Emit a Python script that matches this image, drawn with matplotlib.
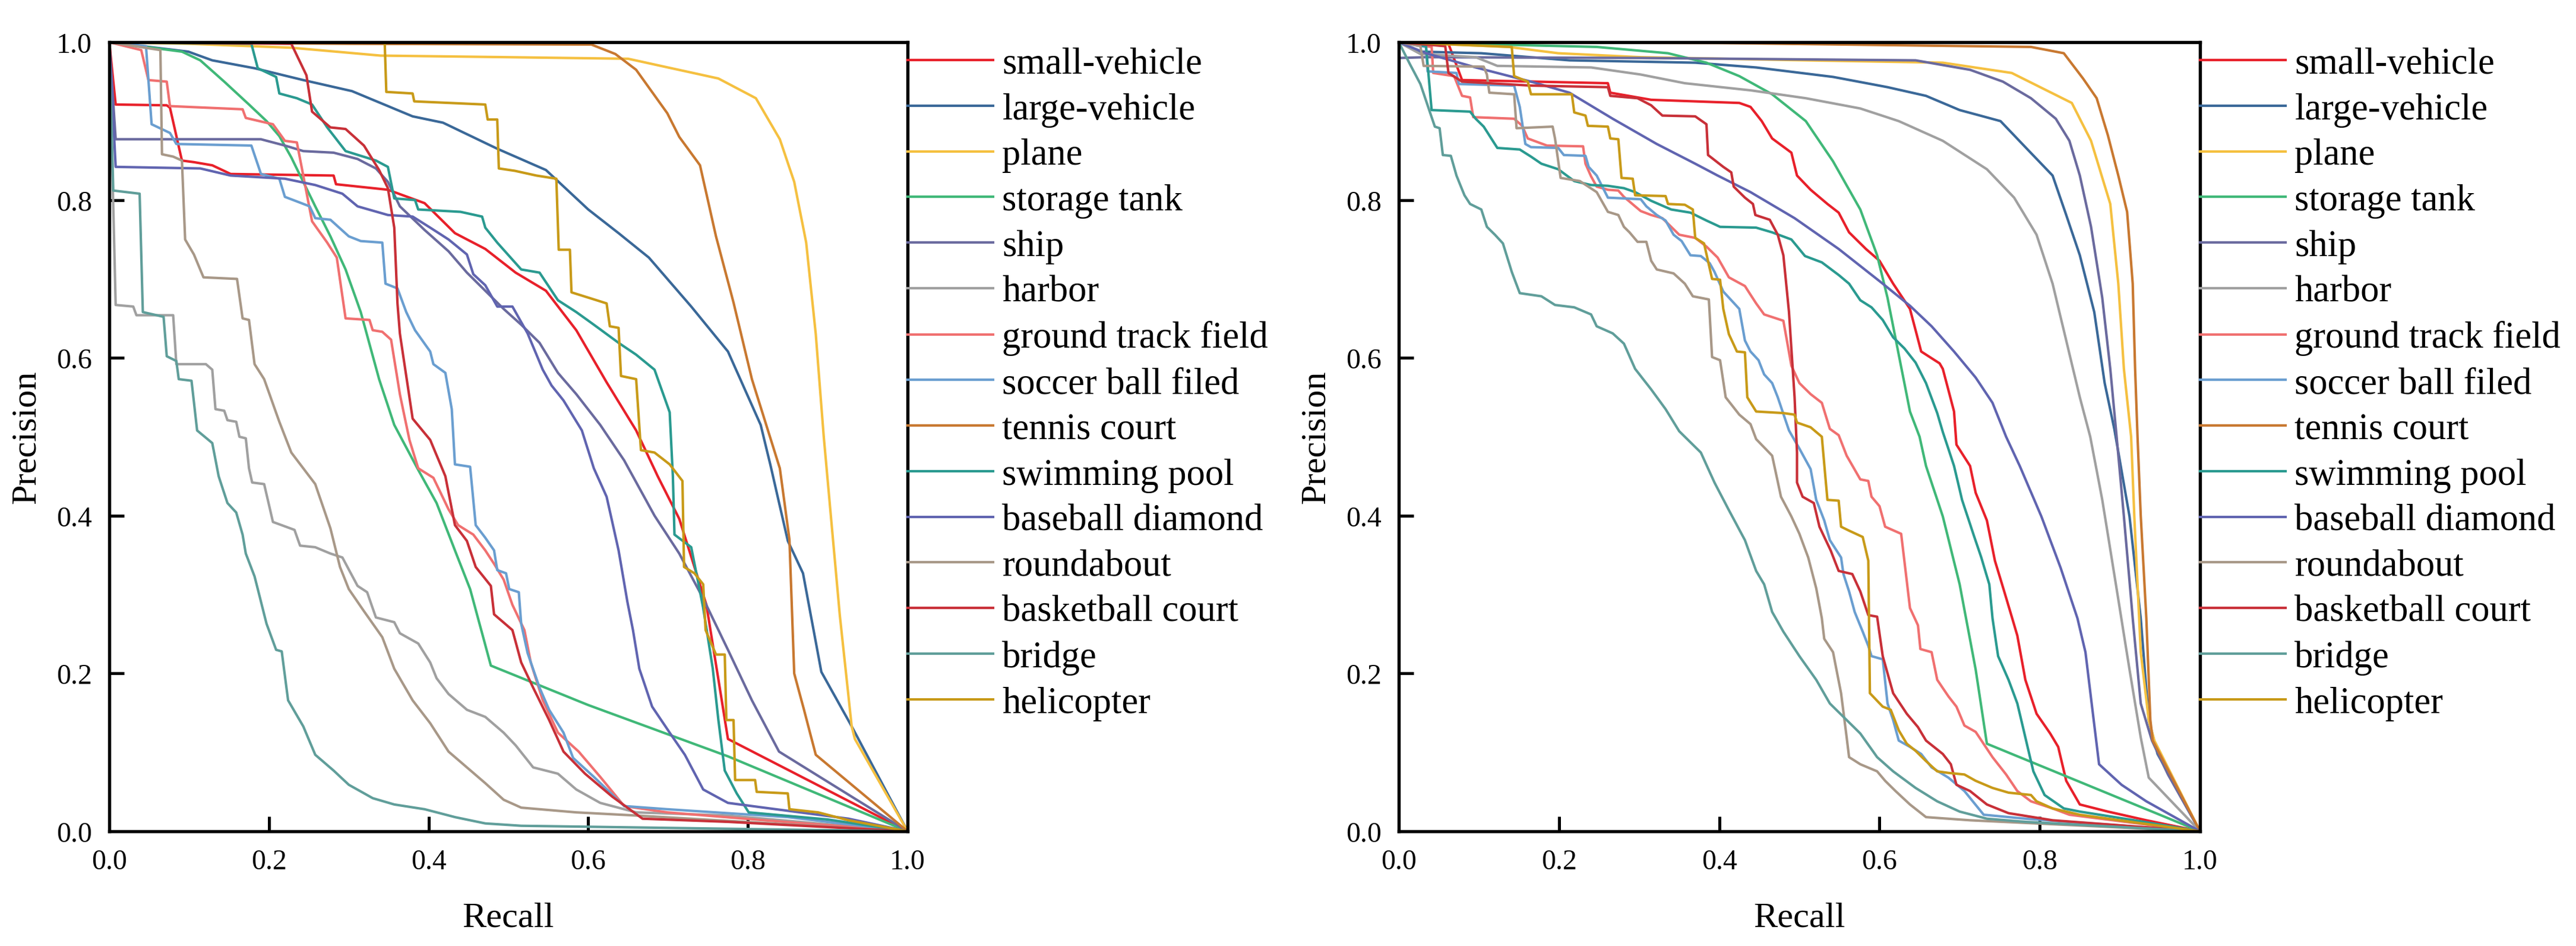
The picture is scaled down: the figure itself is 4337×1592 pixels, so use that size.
import matplotlib
matplotlib.use("Agg")
import matplotlib.pyplot as plt

plt.rcParams['font.family'] = ['Liberation Serif', 'DejaVu Serif']

classes = ["small-vehicle", "large-vehicle", "plane", "storage tank", "ship", "harbor",
           "ground track field", "soccer ball filed", "tennis court", "swimming pool",
           "baseball diamond", "roundabout", "basketball court", "bridge", "helicopter"]

colors = ['#E8202A', '#3A6898', '#F5C040', '#40B878', '#6A6A9E', '#A0A0A0', '#F07070',
          '#6A9ED0', '#C87830', '#2A9A90', '#6064B0', '#A89888', '#C83038', '#609E9A', '#C89A18']

x_ticks = [0.0, 0.2, 0.4, 0.6, 0.8, 1.0]
y_ticks = [0.0, 0.2, 0.4, 0.6, 0.8, 1.0]

# ---------------- left panel: (recall, precision) ----------------
A_small_vehicle = [(0, 1.0), (0.008, 0.921), (0.072, 0.92), (0.076, 0.917), (0.091, 0.85), (0.106, 0.848),
                   (0.129, 0.844), (0.152, 0.833), (0.281, 0.831), (0.284, 0.82), (0.349, 0.813), (0.395, 0.796),
                   (0.433, 0.758), (0.471, 0.738), (0.509, 0.708), (0.547, 0.685), (0.585, 0.635), (0.623, 0.569),
                   (0.66, 0.508), (0.687, 0.45), (0.714, 0.396), (0.748, 0.287), (0.775, 0.117), (1.0, 0.0)]
A_large_vehicle = [(0, 1.0), (0.099, 0.988), (0.129, 0.977), (0.182, 0.967), (0.243, 0.952), (0.304, 0.938),
                   (0.38, 0.906), (0.418, 0.898), (0.486, 0.865), (0.547, 0.838), (0.6, 0.788), (0.638, 0.758),
                   (0.676, 0.727), (0.729, 0.665), (0.775, 0.608), (0.816, 0.515), (0.828, 0.465), (0.85, 0.368),
                   (0.869, 0.327), (0.892, 0.202), (0.93, 0.133), (1.0, 0.0)]
A_plane = [(0, 1.0), (0.1, 0.998), (0.228, 0.993), (0.34, 0.983), (0.5, 0.981), (0.65, 0.979), (0.763, 0.954),
           (0.81, 0.929), (0.84, 0.877), (0.858, 0.823), (0.873, 0.746), (0.885, 0.63), (0.895, 0.5),
           (0.915, 0.275), (0.93, 0.133), (0.934, 0.117), (1.0, 0.0)]
A_storage_tank = [(0, 1.0), (0.091, 0.988), (0.114, 0.977), (0.144, 0.95), (0.175, 0.921), (0.197, 0.9),
                  (0.213, 0.881), (0.228, 0.854), (0.243, 0.823), (0.258, 0.792), (0.277, 0.754), (0.296, 0.712),
                  (0.315, 0.658), (0.338, 0.573), (0.357, 0.515), (0.387, 0.458), (0.41, 0.416), (0.433, 0.356),
                  (0.452, 0.307), (0.478, 0.21), (0.6, 0.16), (0.775, 0.095), (1.0, 0.0)]
A_ship = [(0, 1.0), (0.008, 0.877), (0.19, 0.877), (0.22, 0.869), (0.243, 0.862), (0.281, 0.86), (0.311, 0.852),
          (0.334, 0.84), (0.349, 0.823), (0.364, 0.792), (0.395, 0.762), (0.425, 0.735), (0.448, 0.708),
          (0.471, 0.685), (0.494, 0.662), (0.516, 0.642), (0.539, 0.619), (0.562, 0.581), (0.585, 0.554),
          (0.615, 0.515), (0.645, 0.47), (0.683, 0.4), (0.714, 0.352), (0.744, 0.295), (0.775, 0.23),
          (0.805, 0.166), (0.839, 0.101), (1.0, 0.0)]
A_harbor = [(0, 1.0), (0.008, 0.667), (0.03, 0.665), (0.034, 0.654), (0.08, 0.654), (0.084, 0.592), (0.121, 0.592),
            (0.129, 0.585), (0.133, 0.535), (0.144, 0.533), (0.148, 0.521), (0.159, 0.519), (0.163, 0.5),
            (0.171, 0.498), (0.175, 0.46), (0.179, 0.442), (0.194, 0.44), (0.205, 0.392), (0.232, 0.382),
            (0.239, 0.362), (0.258, 0.36), (0.277, 0.352), (0.292, 0.347), (0.311, 0.311), (0.323, 0.303),
            (0.334, 0.271), (0.357, 0.265), (0.364, 0.251), (0.387, 0.238), (0.402, 0.214), (0.41, 0.194),
            (0.425, 0.174), (0.448, 0.154), (0.471, 0.145), (0.494, 0.125), (0.509, 0.109), (0.531, 0.081),
            (0.562, 0.073), (0.585, 0.053), (0.615, 0.036), (0.66, 0.024), (0.775, 0.02), (1.0, 0.0)]
A_ground_track_field = [(0, 1.0), (0.04, 0.99), (0.049, 0.952), (0.072, 0.95), (0.076, 0.919), (0.167, 0.915),
                        (0.171, 0.904), (0.205, 0.896), (0.22, 0.875), (0.235, 0.873), (0.243, 0.831),
                        (0.254, 0.773), (0.273, 0.746), (0.285, 0.727), (0.296, 0.65), (0.326, 0.648),
                        (0.33, 0.635), (0.342, 0.633), (0.353, 0.623), (0.364, 0.554), (0.376, 0.496),
                        (0.387, 0.46), (0.406, 0.448), (0.425, 0.408), (0.437, 0.388), (0.456, 0.376),
                        (0.471, 0.356), (0.482, 0.339), (0.494, 0.319), (0.505, 0.287), (0.52, 0.255),
                        (0.528, 0.214), (0.543, 0.166), (0.562, 0.125), (0.588, 0.101), (0.615, 0.069),
                        (0.645, 0.032), (0.699, 0.024), (0.82, 0.014), (1.0, 0.0)]
A_soccer_ball_field = [(0, 1.0), (0.046, 0.995), (0.053, 0.896), (0.076, 0.885), (0.084, 0.871), (0.178, 0.869),
                       (0.19, 0.833), (0.213, 0.827), (0.22, 0.804), (0.251, 0.792), (0.258, 0.777),
                       (0.277, 0.775), (0.3, 0.754), (0.315, 0.748), (0.342, 0.746), (0.346, 0.694),
                       (0.361, 0.688), (0.372, 0.658), (0.383, 0.635), (0.402, 0.608), (0.406, 0.592),
                       (0.421, 0.581), (0.429, 0.535), (0.433, 0.465), (0.452, 0.462), (0.459, 0.388),
                       (0.471, 0.372), (0.482, 0.356), (0.486, 0.331), (0.497, 0.327), (0.501, 0.307),
                       (0.513, 0.303), (0.516, 0.263), (0.524, 0.226), (0.539, 0.182), (0.551, 0.154),
                       (0.569, 0.125), (0.581, 0.093), (0.607, 0.069), (0.645, 0.032), (0.699, 0.028),
                       (0.85, 0.018), (1.0, 0.0)]
A_tennis_court = [(0, 1.0), (0.3, 0.998), (0.604, 0.997), (0.634, 0.985), (0.66, 0.965), (0.699, 0.91),
                  (0.714, 0.88), (0.74, 0.844), (0.76, 0.754), (0.782, 0.67), (0.805, 0.573), (0.84, 0.46),
                  (0.852, 0.37), (0.858, 0.2), (0.87, 0.155), (0.885, 0.097), (1.0, 0.0)]
A_swimming_pool = [(0, 1.0), (0.178, 0.998), (0.186, 0.967), (0.209, 0.956), (0.213, 0.935), (0.235, 0.929),
                   (0.254, 0.921), (0.273, 0.892), (0.296, 0.862), (0.334, 0.85), (0.349, 0.842), (0.357, 0.802),
                   (0.383, 0.8), (0.387, 0.788), (0.44, 0.785), (0.467, 0.779), (0.471, 0.765), (0.486, 0.746),
                   (0.516, 0.712), (0.539, 0.708), (0.562, 0.673), (0.585, 0.658), (0.607, 0.642),
                   (0.638, 0.619), (0.66, 0.604), (0.683, 0.585), (0.702, 0.531), (0.706, 0.45),
                   (0.708, 0.376), (0.729, 0.36), (0.744, 0.283), (0.756, 0.206), (0.763, 0.141),
                   (0.771, 0.077), (0.786, 0.048), (0.801, 0.024), (0.9, 0.015), (1.0, 0.0)]
A_baseball_diamond = [(0, 1.0), (0.008, 0.842), (0.114, 0.84), (0.152, 0.831), (0.22, 0.827), (0.258, 0.819),
                      (0.292, 0.808), (0.311, 0.792), (0.349, 0.781), (0.38, 0.779), (0.402, 0.765),
                      (0.425, 0.75), (0.448, 0.731), (0.456, 0.706), (0.471, 0.692), (0.486, 0.665),
                      (0.505, 0.665), (0.524, 0.631), (0.543, 0.585), (0.554, 0.565), (0.569, 0.546),
                      (0.592, 0.508), (0.607, 0.46), (0.623, 0.424), (0.638, 0.356), (0.649, 0.291),
                      (0.656, 0.255), (0.664, 0.206), (0.68, 0.158), (0.702, 0.125), (0.721, 0.097),
                      (0.744, 0.053), (0.775, 0.036), (0.835, 0.028), (0.926, 0.016), (1.0, 0.0)]
A_roundabout = [(0, 1.0), (0.064, 0.99), (0.066, 0.858), (0.08, 0.855), (0.091, 0.85), (0.095, 0.75),
                (0.106, 0.731), (0.118, 0.702), (0.16, 0.7), (0.167, 0.65), (0.175, 0.648), (0.182, 0.592),
                (0.194, 0.573), (0.213, 0.519), (0.228, 0.48), (0.258, 0.44), (0.277, 0.384), (0.289, 0.335),
                (0.3, 0.307), (0.319, 0.279), (0.342, 0.246), (0.357, 0.206), (0.38, 0.166), (0.402, 0.137),
                (0.425, 0.101), (0.448, 0.081), (0.471, 0.061), (0.494, 0.04), (0.516, 0.03), (0.585, 0.024),
                (0.66, 0.02), (1.0, 0.0)]
A_basketball_court = [(0, 1.0), (0.228, 0.998), (0.247, 0.958), (0.254, 0.912), (0.277, 0.892), (0.296, 0.89),
                      (0.319, 0.869), (0.338, 0.838), (0.349, 0.815), (0.357, 0.765), (0.361, 0.669),
                      (0.364, 0.631), (0.38, 0.523), (0.402, 0.496), (0.421, 0.45), (0.433, 0.388),
                      (0.448, 0.368), (0.459, 0.335), (0.478, 0.311), (0.482, 0.275), (0.505, 0.255),
                      (0.516, 0.214), (0.531, 0.182), (0.551, 0.141), (0.569, 0.101), (0.596, 0.073),
                      (0.63, 0.044), (0.668, 0.016), (0.775, 0.012), (1.0, 0.0)]
A_bridge = [(0, 1.0), (0.005, 0.812), (0.038, 0.808), (0.042, 0.658), (0.068, 0.652), (0.072, 0.602),
            (0.084, 0.596), (0.087, 0.573), (0.103, 0.571), (0.11, 0.508), (0.129, 0.492), (0.137, 0.45),
            (0.148, 0.416), (0.159, 0.404), (0.167, 0.376), (0.171, 0.352), (0.182, 0.323), (0.197, 0.263),
            (0.209, 0.23), (0.216, 0.228), (0.224, 0.166), (0.243, 0.133), (0.258, 0.097), (0.281, 0.077),
            (0.3, 0.059), (0.33, 0.042), (0.357, 0.034), (0.395, 0.028), (0.433, 0.018), (0.471, 0.01),
            (0.516, 0.007), (1.0, 0.0)]
A_helicopter = [(0, 1.0), (0.345, 1.0), (0.347, 0.937), (0.38, 0.935), (0.382, 0.925), (0.471, 0.921),
                (0.474, 0.902), (0.486, 0.902), (0.488, 0.84), (0.508, 0.837), (0.535, 0.831), (0.56, 0.827),
                (0.563, 0.737), (0.577, 0.737), (0.579, 0.683), (0.623, 0.669), (0.627, 0.64), (0.638, 0.638),
                (0.641, 0.577), (0.66, 0.573), (0.666, 0.483), (0.683, 0.48), (0.702, 0.465), (0.718, 0.444),
                (0.72, 0.335), (0.733, 0.327), (0.744, 0.313), (0.747, 0.255), (0.76, 0.224), (0.771, 0.224),
                (0.773, 0.141), (0.782, 0.141), (0.784, 0.065), (0.809, 0.065), (0.811, 0.05), (0.85, 0.048),
                (0.852, 0.028), (0.888, 0.024), (0.926, 0.014), (1.0, 0.0)]

# ---------------- right panel: (recall, precision) ----------------
B_small_vehicle = [(0, 1.0), (0.062, 0.998), (0.079, 0.952), (0.261, 0.948), (0.264, 0.936), (0.315, 0.927),
                   (0.425, 0.923), (0.439, 0.918), (0.453, 0.9), (0.466, 0.878), (0.49, 0.86), (0.497, 0.831),
                   (0.514, 0.813), (0.535, 0.795), (0.549, 0.784), (0.562, 0.759), (0.583, 0.738), (0.6, 0.723),
                   (0.617, 0.694), (0.638, 0.662), (0.652, 0.608), (0.675, 0.593), (0.679, 0.586),
                   (0.693, 0.532), (0.696, 0.49), (0.713, 0.463), (0.72, 0.429), (0.734, 0.394), (0.744, 0.343),
                   (0.758, 0.296), (0.772, 0.248), (0.782, 0.192), (0.796, 0.149), (0.813, 0.124),
                   (0.823, 0.107), (0.833, 0.064), (0.85, 0.034), (0.885, 0.025), (0.933, 0.014), (1.0, 0.0)]
B_large_vehicle = [(0, 1.0), (0.027, 0.988), (0.103, 0.986), (0.213, 0.977), (0.37, 0.974), (0.446, 0.968),
                   (0.542, 0.956), (0.61, 0.943), (0.658, 0.932), (0.7, 0.914), (0.751, 0.9), (0.782, 0.867),
                   (0.816, 0.831), (0.833, 0.781), (0.85, 0.73), (0.868, 0.658), (0.881, 0.568), (0.893, 0.51),
                   (0.912, 0.399), (0.926, 0.27), (0.936, 0.141), (0.947, 0.098), (1.0, 0.0)]
B_plane = [(0, 1.0), (0.137, 0.994), (0.199, 0.986), (0.302, 0.981), (0.508, 0.977), (0.679, 0.974),
           (0.765, 0.961), (0.84, 0.923), (0.864, 0.875), (0.888, 0.795), (0.898, 0.694), (0.905, 0.586),
           (0.914, 0.5), (0.918, 0.399), (0.926, 0.227), (0.936, 0.141), (0.943, 0.115), (1.0, 0.0)]
B_storage_tank = [(0, 1.0), (0.247, 0.994), (0.336, 0.986), (0.384, 0.974), (0.425, 0.957), (0.466, 0.934),
                  (0.508, 0.9), (0.542, 0.849), (0.576, 0.788), (0.597, 0.73), (0.61, 0.676), (0.624, 0.604),
                  (0.638, 0.532), (0.65, 0.5), (0.658, 0.463), (0.679, 0.399), (0.7, 0.313), (0.72, 0.205),
                  (0.734, 0.111), (1.0, 0.0)]
B_ship = [(0, 0.98), (0.034, 0.981), (0.3, 0.98), (0.645, 0.977), (0.713, 0.965), (0.754, 0.95), (0.789, 0.929),
          (0.82, 0.903), (0.837, 0.875), (0.85, 0.831), (0.864, 0.766), (0.878, 0.676), (0.888, 0.586),
          (0.895, 0.51), (0.905, 0.399), (0.916, 0.27), (0.926, 0.162), (0.94, 0.115), (0.96, 0.072), (1.0, 0.0)]
B_harbor = [(0, 1.0), (0.027, 0.985), (0.096, 0.981), (0.123, 0.97), (0.24, 0.968), (0.302, 0.959), (0.357, 0.948),
            (0.439, 0.939), (0.508, 0.929), (0.576, 0.916), (0.624, 0.9), (0.679, 0.875), (0.734, 0.839),
            (0.768, 0.803), (0.796, 0.756), (0.816, 0.694), (0.833, 0.622), (0.85, 0.55), (0.863, 0.5),
            (0.878, 0.42), (0.895, 0.313), (0.912, 0.205), (0.926, 0.119), (0.936, 0.068), (1.0, 0.0)]
B_ground_track_field = [(0, 1.0), (0.041, 0.994), (0.043, 0.961), (0.069, 0.957), (0.079, 0.932), (0.089, 0.93),
                        (0.093, 0.905), (0.144, 0.903), (0.154, 0.894), (0.161, 0.878), (0.185, 0.869),
                        (0.23, 0.868), (0.233, 0.846), (0.24, 0.83), (0.247, 0.817), (0.261, 0.813),
                        (0.274, 0.812), (0.281, 0.804), (0.302, 0.786), (0.315, 0.781), (0.329, 0.777),
                        (0.35, 0.756), (0.37, 0.752), (0.384, 0.741), (0.398, 0.727), (0.412, 0.702),
                        (0.432, 0.691), (0.446, 0.669), (0.456, 0.655), (0.48, 0.647), (0.49, 0.59),
                        (0.5, 0.568), (0.514, 0.554), (0.528, 0.543), (0.538, 0.51), (0.549, 0.502),
                        (0.559, 0.476), (0.576, 0.446), (0.586, 0.444), (0.59, 0.424), (0.6, 0.412),
                        (0.607, 0.386), (0.627, 0.377), (0.638, 0.283), (0.648, 0.261), (0.651, 0.231),
                        (0.665, 0.227), (0.672, 0.192), (0.686, 0.171), (0.696, 0.158), (0.706, 0.134),
                        (0.72, 0.126), (0.741, 0.094), (0.758, 0.072), (0.772, 0.051), (0.789, 0.038),
                        (0.816, 0.029), (0.837, 0.021), (1.0, 0.0)]
B_soccer_ball_field = [(0, 1.0), (0.034, 0.994), (0.036, 0.963), (0.072, 0.961), (0.075, 0.947), (0.144, 0.945),
                       (0.151, 0.918), (0.158, 0.871), (0.165, 0.867), (0.199, 0.866), (0.206, 0.857),
                       (0.233, 0.856), (0.237, 0.842), (0.247, 0.831), (0.261, 0.803), (0.302, 0.801),
                       (0.309, 0.792), (0.322, 0.781), (0.333, 0.774), (0.343, 0.756), (0.353, 0.748),
                       (0.364, 0.73), (0.377, 0.729), (0.388, 0.72), (0.394, 0.709), (0.405, 0.684),
                       (0.415, 0.673), (0.425, 0.662), (0.432, 0.622), (0.439, 0.608), (0.449, 0.597),
                       (0.456, 0.579), (0.466, 0.568), (0.473, 0.55), (0.487, 0.508), (0.5, 0.485),
                       (0.514, 0.459), (0.521, 0.42), (0.531, 0.394), (0.538, 0.369), (0.552, 0.347),
                       (0.555, 0.326), (0.562, 0.304), (0.569, 0.278), (0.579, 0.253), (0.586, 0.235),
                       (0.59, 0.222), (0.604, 0.218), (0.61, 0.162), (0.617, 0.141), (0.624, 0.115),
                       (0.638, 0.107), (0.652, 0.098), (0.665, 0.081), (0.686, 0.068), (0.706, 0.051),
                       (0.73, 0.021), (0.782, 0.016), (1.0, 0.0)]
B_tennis_court = [(0, 1.0), (0.4, 0.999), (0.789, 0.994), (0.83, 0.986), (0.854, 0.954), (0.871, 0.929),
                  (0.885, 0.882), (0.898, 0.831), (0.909, 0.785), (0.916, 0.694), (0.919, 0.586), (0.922, 0.5),
                  (0.926, 0.4), (0.933, 0.27), (0.938, 0.141), (0.941, 0.115), (1.0, 0.0)]
B_swimming_pool = [(0, 1.0), (0.034, 0.995), (0.041, 0.914), (0.089, 0.912), (0.096, 0.903), (0.106, 0.893),
                   (0.123, 0.866), (0.151, 0.864), (0.165, 0.855), (0.178, 0.846), (0.199, 0.839),
                   (0.219, 0.824), (0.24, 0.819), (0.261, 0.818), (0.281, 0.815), (0.295, 0.81), (0.315, 0.799),
                   (0.34, 0.788), (0.364, 0.784), (0.384, 0.774), (0.401, 0.766), (0.446, 0.765),
                   (0.466, 0.759), (0.49, 0.75), (0.507, 0.729), (0.528, 0.721), (0.549, 0.705),
                   (0.562, 0.694), (0.576, 0.673), (0.59, 0.664), (0.604, 0.648), (0.617, 0.626),
                   (0.631, 0.612), (0.645, 0.594), (0.658, 0.568), (0.672, 0.53), (0.679, 0.506),
                   (0.693, 0.463), (0.703, 0.42), (0.717, 0.377), (0.727, 0.347), (0.737, 0.313),
                   (0.741, 0.27), (0.748, 0.222), (0.761, 0.192), (0.772, 0.162), (0.782, 0.119),
                   (0.792, 0.076), (0.806, 0.046), (0.83, 0.029), (0.85, 0.025), (0.918, 0.014), (1.0, 0.0)]
B_baseball_diamond = [(0, 1.0), (0.034, 0.986), (0.096, 0.968), (0.165, 0.95), (0.213, 0.936), (0.267, 0.903),
                      (0.322, 0.871), (0.37, 0.846), (0.398, 0.831), (0.439, 0.81), (0.494, 0.777),
                      (0.549, 0.738), (0.604, 0.694), (0.638, 0.666), (0.665, 0.64), (0.693, 0.608),
                      (0.72, 0.575), (0.741, 0.543), (0.758, 0.5), (0.775, 0.463), (0.802, 0.399),
                      (0.826, 0.334), (0.847, 0.27), (0.857, 0.227), (0.874, 0.085), (0.902, 0.059),
                      (0.933, 0.038), (1.0, 0.0)]
B_roundabout = [(0, 1.0), (0.027, 0.995), (0.031, 0.97), (0.106, 0.969), (0.11, 0.959), (0.113, 0.936),
                (0.144, 0.934), (0.147, 0.891), (0.192, 0.893), (0.195, 0.878), (0.202, 0.828), (0.226, 0.824),
                (0.247, 0.81), (0.261, 0.785), (0.274, 0.781), (0.281, 0.766), (0.288, 0.759), (0.298, 0.747),
                (0.309, 0.747), (0.315, 0.723), (0.322, 0.712), (0.343, 0.707), (0.357, 0.694), (0.367, 0.678),
                (0.387, 0.674), (0.391, 0.601), (0.401, 0.597), (0.408, 0.55), (0.425, 0.528), (0.439, 0.516),
                (0.446, 0.497), (0.466, 0.476), (0.477, 0.424), (0.49, 0.399), (0.5, 0.377), (0.511, 0.347),
                (0.521, 0.308), (0.528, 0.27), (0.531, 0.244), (0.542, 0.227), (0.552, 0.175), (0.559, 0.119),
                (0.562, 0.094), (0.576, 0.085), (0.597, 0.076), (0.607, 0.064), (0.62, 0.051), (0.638, 0.034),
                (0.658, 0.018), (0.713, 0.014), (1.0, 0.0)]
B_basketball_court = [(0, 1.0), (0.058, 0.995), (0.062, 0.961), (0.079, 0.95), (0.165, 0.945), (0.261, 0.943),
                      (0.264, 0.932), (0.298, 0.929), (0.315, 0.92), (0.329, 0.907), (0.37, 0.906),
                      (0.384, 0.896), (0.386, 0.857), (0.405, 0.842), (0.415, 0.835), (0.418, 0.817),
                      (0.432, 0.803), (0.442, 0.795), (0.445, 0.781), (0.463, 0.775), (0.473, 0.756),
                      (0.48, 0.73), (0.487, 0.658), (0.494, 0.55), (0.497, 0.48), (0.497, 0.442),
                      (0.504, 0.424), (0.518, 0.416), (0.525, 0.386), (0.539, 0.356), (0.549, 0.33),
                      (0.566, 0.326), (0.576, 0.304), (0.586, 0.274), (0.597, 0.272), (0.604, 0.222),
                      (0.617, 0.175), (0.634, 0.149), (0.648, 0.132), (0.658, 0.115), (0.679, 0.098),
                      (0.689, 0.085), (0.696, 0.059), (0.713, 0.051), (0.734, 0.034), (0.761, 0.023),
                      (0.816, 0.014), (1.0, 0.0)]
B_bridge = [(0, 1.0), (0.014, 0.972), (0.027, 0.947), (0.045, 0.893), (0.051, 0.891), (0.055, 0.857),
            (0.065, 0.856), (0.072, 0.831), (0.082, 0.806), (0.089, 0.795), (0.103, 0.788), (0.11, 0.766),
            (0.12, 0.756), (0.13, 0.745), (0.141, 0.709), (0.151, 0.682), (0.178, 0.678), (0.195, 0.667),
            (0.219, 0.664), (0.24, 0.655), (0.247, 0.64), (0.267, 0.631), (0.281, 0.618), (0.295, 0.586),
            (0.315, 0.56), (0.333, 0.535), (0.35, 0.507), (0.364, 0.493), (0.377, 0.48), (0.394, 0.442),
            (0.412, 0.407), (0.432, 0.369), (0.446, 0.33), (0.456, 0.313), (0.466, 0.278), (0.48, 0.253),
            (0.5, 0.222), (0.521, 0.192), (0.538, 0.162), (0.555, 0.145), (0.576, 0.124), (0.597, 0.094),
            (0.617, 0.076), (0.645, 0.055), (0.672, 0.038), (0.7, 0.025), (0.734, 0.016), (0.782, 0.012),
            (1.0, 0.0)]
B_helicopter = [(0, 1.0), (0.141, 0.994), (0.144, 0.957), (0.161, 0.95), (0.165, 0.934), (0.216, 0.934),
                (0.219, 0.911), (0.233, 0.907), (0.236, 0.894), (0.261, 0.893), (0.264, 0.878), (0.274, 0.877),
                (0.278, 0.828), (0.292, 0.827), (0.295, 0.806), (0.333, 0.805), (0.336, 0.795), (0.357, 0.794),
                (0.367, 0.788), (0.37, 0.752), (0.381, 0.745), (0.391, 0.7), (0.401, 0.699), (0.405, 0.662),
                (0.412, 0.63), (0.422, 0.608), (0.432, 0.607), (0.435, 0.55), (0.446, 0.532), (0.48, 0.53),
                (0.494, 0.528), (0.497, 0.518), (0.514, 0.512), (0.528, 0.5), (0.532, 0.454), (0.535, 0.42),
                (0.549, 0.419), (0.552, 0.386), (0.562, 0.381), (0.579, 0.373), (0.586, 0.343), (0.588, 0.175),
                (0.604, 0.158), (0.614, 0.154), (0.624, 0.128), (0.634, 0.111), (0.645, 0.102), (0.658, 0.089),
                (0.672, 0.076), (0.686, 0.074), (0.706, 0.072), (0.72, 0.064), (0.741, 0.055), (0.761, 0.049),
                (0.789, 0.046), (0.796, 0.038), (0.816, 0.029), (0.85, 0.021), (0.885, 0.016), (1.0, 0.0)]

left_series = [A_small_vehicle, A_large_vehicle, A_plane, A_storage_tank, A_ship, A_harbor,
               A_ground_track_field, A_soccer_ball_field, A_tennis_court, A_swimming_pool,
               A_baseball_diamond, A_roundabout, A_basketball_court, A_bridge, A_helicopter]
right_series = [B_small_vehicle, B_large_vehicle, B_plane, B_storage_tank, B_ship, B_harbor,
                B_ground_track_field, B_soccer_ball_field, B_tennis_court, B_swimming_pool,
                B_baseball_diamond, B_roundabout, B_basketball_court, B_bridge, B_helicopter]

W, H = 4337, 1593
fig = plt.figure(figsize=(W / 300, H / 300), dpi=300)

ax_boxes = [(184 / W, 1 - 1400 / H, (1528 - 184) / W, (1400 - 72) / H),
            (2355 / W, 1 - 1400 / H, (3704 - 2355) / W, (1400 - 72) / H)]

for box, series in zip(ax_boxes, [left_series, right_series]):
    ax = fig.add_axes(box)
    for name, pts, col in zip(classes, series, colors):
        r = [p[0] for p in pts]
        pr = [p[1] for p in pts]
        ax.plot(r, pr, color=col, lw=1.0, label=name, solid_joinstyle='round')
    ax.set_xlim(0, 1)
    ax.set_ylim(0, 1)
    ax.set_xticks(x_ticks)
    ax.set_yticks(y_ticks)
    ax.set_xticklabels([f"{v:.1f}" for v in x_ticks])
    ax.set_yticklabels([f"{v:.1f}" for v in y_ticks])
    ax.tick_params(direction='in', length=6, width=1.2, labelsize=11.5, pad=7,
                   top=False, right=False)
    for s in ax.spines.values():
        s.set_linewidth(1.3)
    ax.set_xlabel("Recall", fontsize=14.5, labelpad=11)
    ax.set_ylabel("Precision", fontsize=14.5, labelpad=5.5)
    ax.legend(loc='upper left', bbox_to_anchor=(1.0, 0.994), frameon=False, fontsize=15,
              handlelength=2.3, handletextpad=0.25, labelspacing=0.30, borderaxespad=0.0,
              borderpad=0.0)

fig.savefig("out.png", dpi=300)
